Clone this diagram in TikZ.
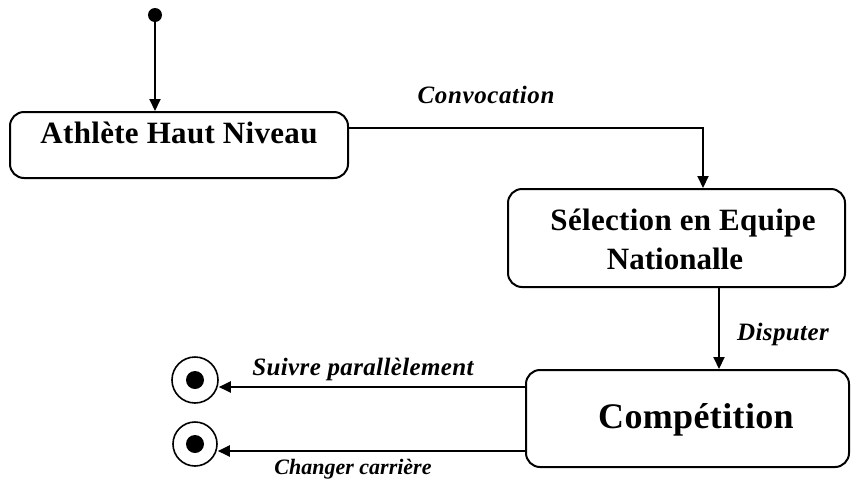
\documentclass[tikz,border=0pt]{standalone}
\usepackage{fontspec}
\setmainfont{Liberation Serif}
\usetikzlibrary{arrows.meta,calc}
\tikzset{
  x=1pt,y=-1pt,
  line/.style={line width=2pt},
  arr/.style={line width=2pt,-{Triangle[length=12pt,width=11pt]}},
  statebox/.style={draw,line width=2pt,rounded corners=14pt,inner sep=0pt},
  txt/.style={inner sep=0pt,anchor=base},
}
\begin{document}
\begin{tikzpicture}
\useasboundingbox (0,0) rectangle (852,480);
% states
\node[circle,fill=black,minimum size=14pt,inner sep=0pt] (init) at (155,15) {};
\node[statebox,minimum width=338pt,minimum height=66pt] (athlete) at (179,145) {};
\node[statebox,minimum width=337pt,minimum height=98pt] (selection) at (676.5,238) {};
\node[statebox,minimum width=323pt,minimum height=97pt] (competition) at (687.5,418.5) {};
\node[circle,draw,line width=1.6pt,minimum size=46pt,inner sep=0pt] (final1) at (195,380) {};
\node[circle,fill=black,minimum size=18pt,inner sep=0pt] (dot1) at (final1.center) {};
\node[circle,draw,line width=1.6pt,minimum size=44pt,inner sep=0pt] (final2) at (195,444) {};
\node[circle,fill=black,minimum size=18pt,inner sep=0pt] (dot2) at (final2.center) {};
% texts
\node[txt] (t1) at (179,143) {\fontsize{31}{33}\selectfont\bfseries\addfontfeature{LetterSpace=1}Athlète Haut Niveau};
\node[txt] (t2a) at (683,230) {\fontsize{31}{33}\selectfont\bfseries\addfontfeature{LetterSpace=1}Sélection en Equipe};
\node[txt] (t2b) at (675,269) {\fontsize{31}{33}\selectfont\bfseries Nationalle};
\node[txt] (t3) at (696,428) {\fontsize{36}{38}\selectfont\bfseries\addfontfeature{LetterSpace=1}Compétition};
\node[txt] (l1) at (486,103) {\fontsize{25}{27}\selectfont\bfseries\itshape\addfontfeature{LetterSpace=2.5}Convocation};
\node[txt] (l2) at (783,340) {\fontsize{25}{27}\selectfont\bfseries\itshape\addfontfeature{LetterSpace=1.5}Disputer};
\node[txt] (l3) at (363,375) {\fontsize{25}{27}\selectfont\bfseries\itshape\addfontfeature{LetterSpace=1.5}Suivre parallèlement};
\node[txt] (l4) at (353,474) {\fontsize{22}{24}\selectfont\bfseries\itshape Changer carrière};
% connectors
\coordinate (a1) at ([yshift=17pt]athlete.east);
\coordinate (s1) at ([xshift=26.5pt]selection.north);
\coordinate (s2) at ([xshift=42.5pt]selection.south);
\coordinate (c1) at ([yshift=31.5pt]competition.west);
\coordinate (c2) at ([yshift=-32.5pt]competition.west);
\draw[arr] (init) -- (init |- athlete.north);
\draw[arr] (a1) -| (s1);
\draw[arr] (s2) -- (s2 |- competition.north);
\draw[arr] (c1) -- (c1 -| final1.east);
\draw[arr] (c2) -- (c2 -| final2.east);
\end{tikzpicture}
\end{document}
